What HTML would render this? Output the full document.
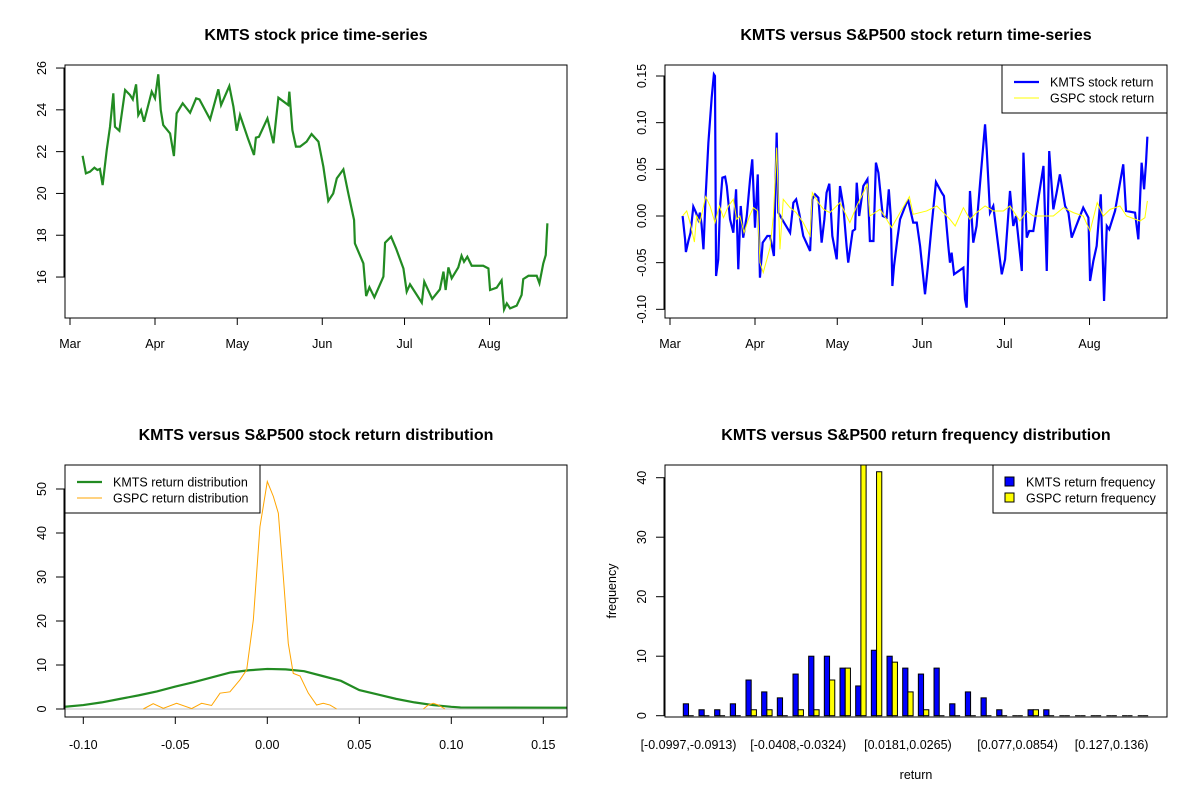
<!DOCTYPE html>
<html><head><meta charset="utf-8"><style>
body{margin:0;background:#fff}
svg{display:block;font-family:"Liberation Sans",Arial,sans-serif}
</style></head><body>
<svg id="root" width="1200" height="800" viewBox="0 0 1200 800" xmlns="http://www.w3.org/2000/svg">
<rect width="1200" height="800" fill="#fff"/>
</svg>
<script>
// ---- Price time-series (days since Mar 1) ----
const priceDays=[4.6,5.8,7.3,8.9,10.0,10.9,11.9,13.4,14.6,15.8,16.4,18.0,20.1,21.9,22.9,24.1,24.9,25.9,27.0,29.8,31.0,32.2,33.1,34.0,36.5,37.9,38.9,41.1,43.8,46.0,47.2,51.1,54.1,55.1,58.1,59.6,60.8,62.0,65.0,67.1,67.8,68.9,72.0,74.2,76.0,79.6,80.0,81.1,82.4,83.9,86.3,88.1,90.6,92.4,94.2,96.0,97.3,99.7,101.5,103.6,103.9,107.0,108.0,109.2,111.0,114.3,114.9,117.1,118.9,121.6,122.8,124.0,128.3,129.2,132.1,134.9,136.2,137.0,138.0,139.2,141.6,142.8,143.7,144.9,146.5,150.7,152.6,153.2,155.6,157.4,158.3,159.3,160.5,162.9,164.7,165.3,167.2,170.2,171.2,172.6,173.5,174.1];
const priceVals=[21.8,20.96,21.04,21.23,21.12,21.17,20.4,22.08,23.19,24.79,23.19,23.0,24.95,24.71,24.5,25.22,23.75,23.99,23.43,24.87,24.55,25.7,23.99,23.27,22.87,21.79,23.83,24.31,23.86,24.55,24.5,23.54,24.98,24.23,25.14,24.15,23.0,23.75,22.59,21.84,22.67,22.71,23.59,22.4,24.58,24.23,24.87,23.03,22.24,22.24,22.48,22.84,22.48,21.28,19.64,20.0,20.72,21.15,20.0,18.73,17.61,16.65,15.09,15.51,15.03,16.02,17.64,17.93,17.37,16.41,15.3,15.65,14.77,15.78,14.95,15.41,16.26,15.38,16.46,15.94,16.46,17.02,16.73,16.97,16.54,16.54,16.41,15.38,15.49,15.84,14.45,14.74,14.5,14.63,15.14,15.9,16.06,16.06,15.7,16.65,17.05,18.57];
const monthLabels=["Mar","Apr","May","Jun","Jul","Aug"];
const monthDays=[0,31,61,92,122,153];
const priceTicks=[16,18,20,22,24,26];
// ---- Return time-series ----
const kmtsDays=[4.6,5.5,5.8,6.7,7.5,8.5,9.5,10.3,10.9,11.5,12.2,13.0,14.0,15.2,16.0,16.4,16.8,17.6,18.2,19.1,20.1,20.7,21.9,23.1,24.1,24.9,25.8,26.7,28.0,29.2,30.0,31.0,32.0,32.8,33.8,35.5,36.5,37.9,38.9,39.5,41.6,43.8,45.0,46.0,47.2,48.6,51.1,51.9,52.9,54.1,55.3,56.3,57.1,58.1,59.2,60.8,62.0,63.2,64.4,65.0,66.6,67.5,68.1,69.0,70.5,72.0,72.9,74.2,75.1,76.0,77.6,79.0,79.8,80.5,81.1,81.7,82.9,83.9,86.3,86.9,88.7,90.0,91.2,93.0,94.0,95.4,97.0,99.1,99.9,101.5,102.1,102.7,103.6,107.0,107.6,108.2,109.4,110.6,111.8,113.1,114.9,115.5,116.7,117.9,121.0,122.2,124.0,125.2,126.2,128.3,128.9,130.1,131.0,132.5,134.3,136.2,137.4,138.3,139.8,141.0,142.2,144.1,145.3,146.5,150.7,152.6,153.2,154.4,155.6,157.1,158.3,159.3,160.2,162.3,165.3,166.3,169.6,170.8,172.0,172.9,173.6,174.1];
const kmtsRet=[0,-.025,-.0386,-.0268,-.0179,.010,.0036,-.0036,.0036,-.0089,-.0357,.0214,.0786,.1268,.1518,.15,-.0643,-.0464,.0071,.0411,.0421,.0321,-.0036,-.0179,.0286,-.0571,.0107,-.0232,0,.0393,.0607,-.0125,.0446,-.0661,-.0286,-.0214,-.0214,-.0429,.0893,.0036,-.0071,-.0179,.0143,.0179,.0018,-.0214,-.0375,.0179,.0232,.0196,-.0286,-.0036,.025,.0346,-.0214,-.0464,.0321,.0107,-.0321,-.05,-.0161,-.0143,.0357,0,.0321,.0393,-.0268,-.0268,.0571,.0464,0,-.0018,.0286,0,-.075,-.0536,-.025,-.0036,.0143,.0161,-.0071,-.0071,-.0321,-.0839,-.0554,-.0107,.0364,.025,.0214,-.0321,-.05,-.0393,-.0625,-.0554,-.0893,-.0982,.0268,-.0286,-.0107,.0357,.0982,.0714,.0036,.0107,-.0625,-.0464,.0268,-.0107,0,-.0589,.0679,-.0232,-.0161,-.0161,.0179,.0536,-.0589,.0696,.0071,.025,.0446,.0107,.0036,-.0232,.0089,-.0018,-.0696,-.0482,-.0321,.0232,-.0911,-.0107,-.0143,.0054,.0554,.0054,.0036,-.025,.0571,.0286,.0571,.085];
const gspcDays=[4.6,6.1,7.3,8.9,9.7,10.9,13.0,14.6,16.4,18.0,19.5,21.3,23.1,24.3,25.5,27.0,29.0,30.4,32.0,32.8,34.0,36.5,37.7,38.9,40.1,41.3,43.8,46.0,48.6,51.1,51.9,54.1,56.0,58.3,62.0,65.6,68.1,72.0,72.9,76.6,79.0,80.8,83.9,87.3,88.7,93.6,97.3,99.7,102.1,104.0,107.0,109.4,111.8,114.9,117.9,121.6,124.0,127.6,130.1,132.5,139.8,143.5,147.1,150.7,153.2,155.8,158.0,160.5,164.1,166.5,171.4,173.2,174.1];
const gspcRet=[0,.0054,-.0071,-.0279,0,-.0071,.0207,.0107,-.0071,.0107,-.0018,.0107,.0179,-.0036,0,-.0179,0,.0089,.0054,-.05,-.0607,-.0339,0,.0732,-.0357,.0179,.0089,.0036,-.0071,-.0214,.025,.0143,.0071,.0036,.0143,-.0071,.0107,.0339,0,.0071,-.0036,-.0125,.0036,.0207,.0018,.0054,.0107,.0036,-.0036,-.0107,.0089,-.0036,.0036,.0107,.0054,.0054,.0107,-.0054,.0054,0,0,.0089,.0036,0,-.0161,.0143,0,.0071,.0107,0,-.0054,-.0018,.0161];
const retTicks=[-0.10,-0.05,0.00,0.05,0.10,0.15];
const retTickLabels=["-0.10","-0.05","0.00","0.05","0.10","0.15"];
// ---- Densities ----
const kmtsDensX=[-0.11,-0.10,-0.09,-0.08,-0.07,-0.06,-0.05,-0.04,-0.03,-0.02,-0.01,0,0.01,0.02,0.03,0.04,0.05,0.06,0.07,0.08,0.09,0.10,0.105,0.163];
const kmtsDensY=[0.5,0.9,1.5,2.3,3.1,4.0,5.1,6.1,7.2,8.3,8.8,9.1,9.0,8.6,7.5,6.4,4.3,3.3,2.3,1.5,0.9,0.5,0.35,0.3];
const gspcDensX=[-0.0674,-0.062,-0.0565,-0.0493,-0.0411,-0.0357,-0.0303,-0.0257,-0.0203,-0.0149,-0.0112,-0.0076,-0.004,0,0.0033,0.006,0.0087,0.0114,0.0141,0.0178,0.0223,0.0268,0.0304,0.0341,0.0377];
const gspcDensY=[0,1.2,0.15,1.3,0.1,1.3,0.8,3.6,3.9,6.6,8.9,20.2,41.4,51.7,48.3,44.5,30.1,14.9,8.1,7.5,3.6,0.9,1.3,0.9,0];
const gspcBumpX=[0.0848,0.0875,0.0902,0.093,0.0966];
const gspcBumpY=[0,0.9,1.3,0.9,0];
const densXTicks=[-0.10,-0.05,0.00,0.05,0.10,0.15];
const densXLabels=["-0.10","-0.05","0.00","0.05","0.10","0.15"];
const densYTicks=[0,10,20,30,40,50];
// ---- Histogram ----
const kmtsFreq=[2,1,1,2,6,4,3,7,10,10,8,5,11,10,8,7,8,2,4,3,1,0,1,1,0,0,0,0,0,0];
const gspcFreq=[0,0,0,0,1,1,0,1,1,6,8,55,41,9,4,1,0,0,0,0,0,0,1,0,0,0,0,0,0,0];
const binLabelIdx=[0,7,14,21,27];
const binLabels=["[-0.0997,-0.0913)","[-0.0408,-0.0324)","[0.0181,0.0265)","[0.077,0.0854)","[0.127,0.136)"];
const freqTicks=[0,10,20,30,40];

const NS="http://www.w3.org/2000/svg";
const root=document.getElementById('root');
function mk(tag,attrs,parent,txt){const e=document.createElementNS(NS,tag);for(const k in attrs)e.setAttribute(k,attrs[k]);if(txt!==undefined)e.textContent=txt;(parent||root).appendChild(e);return e;}
function poly(xs,ys,fx,fy){return xs.map((x,i)=>fx(x).toFixed(2)+','+fy(ys[i]).toFixed(2)).join(' ');}

function panel(name,x0,y0,x1,y1,title){
  const g=mk('g',{});
  
  
  const t=mk('text',{x:(x0+x1)/2,y:y0-25,'text-anchor':'middle','font-size':'16','font-weight':'bold'},g,title);
  
  
  const clip=mk('clipPath',{id:name+'-clip'},g);
  mk('rect',{x:x0,y:y0,width:x1-x0,height:y1-y0},clip);
  const inner=mk('g',{'clip-path':'url(#'+name+'-clip)'},g);
  return {g,inner,x0,y0,x1,y1};
}
function frame(p){const r=mk('rect',{x:p.x0,y:p.y0,width:p.x1-p.x0,height:p.y1-p.y0,fill:'none',stroke:'#000','stroke-width':1},p.g);
  
  }
function xTicks(p,vals,labels,fx,ly){const g=mk('g',{},p.g);
  
  
  vals.forEach((v,i)=>{const x=fx(v);mk('line',{x1:x,x2:x,y1:p.y1,y2:p.y1+7,stroke:'#000'},g);
   if(labels[i]!=null)mk('text',{x:x,y:ly,'text-anchor':'middle','font-size':'12.5'},g,labels[i]);});
  mk('line',{x1:fx(vals[0]),x2:fx(vals[vals.length-1]),y1:p.y1,y2:p.y1,stroke:'#000'},g);}
function yTicks(p,vals,labels,fy){const g=mk('g',{},p.g);
  
  
  vals.forEach((v,i)=>{const y=fy(v);mk('line',{x1:p.x0-9,x2:p.x0,y1:y,y2:y,stroke:'#000'},g);
   const lx=p.x0-19;mk('text',{x:lx,y:y,'text-anchor':'middle','font-size':'12.5',transform:'rotate(-90 '+lx+' '+y+')',dy:'0'},g,labels[i]);});
  mk('line',{x1:p.x0-1,x2:p.x0-1,y1:fy(vals[0]),y2:fy(vals[vals.length-1]),stroke:'#000'},g);}
function legend(p,bx,by,w,entries){const g=mk('g',{},p.g);
  
  
  mk('rect',{x:bx,y:by,width:w,height:48,fill:'#fff',stroke:'#000'},g);
  entries.forEach((e,i)=>{const y=by+17+i*16;const eg=mk('g',{},g);
    
    
    if(e.box)mk('rect',{x:bx+12,y:y-5,width:9,height:9,fill:e.color,stroke:'#000'},eg);
    else mk('line',{x1:bx+12,x2:bx+37,y1:y,y2:y,stroke:e.color,'stroke-width':e.w},eg);
    mk('text',{x:bx+(e.box?33:48),y:y+4.5,'font-size':'12.5'},eg,e.label);});}

// Panel 1: price
(function(){const p=panel('price-panel',65,65,567,318,'KMTS stock price time-series');
 const fx=d=>70+d*2.742, fy=v=>318-(v-14.04)*20.9;
 const l=mk('polyline',{points:poly(priceDays,priceVals,fx,fy),fill:'none',stroke:'#228b22','stroke-width':2.2},p.inner);
 
 
 frame(p);xTicks(p,monthDays,monthLabels,fx,348);yTicks(p,priceTicks,priceTicks.map(String),fy);})();

// Panel 2: returns
(function(){const p=panel('return-panel',665,65,1167,318,'KMTS versus S&P500 stock return time-series');
 const fx=d=>670+d*2.742, fy=v=>318-(v+0.1093)*933.3;
 const a=mk('polyline',{points:poly(kmtsDays,kmtsRet,fx,fy),fill:'none',stroke:'#0000ff','stroke-width':2.2},p.inner);
 
 
 const b=mk('polyline',{points:poly(gspcDays,gspcRet,fx,fy),fill:'none',stroke:'#ffff00','stroke-width':1},p.inner);
 
 
 frame(p);xTicks(p,monthDays,monthLabels,fx,348);yTicks(p,retTicks,retTickLabels,fy);
 legend(p,1002,65,165,[{color:'#0000ff',w:2.2,label:'KMTS stock return'},{color:'#ffff00',w:1,label:'GSPC stock return'}]);})();

// Panel 3: densities
(function(){const p=panel('density-panel',65,465,567,717,'KMTS versus S&P500 stock return distribution');
 const fx=v=>267.3+v*1840, fy=v=>709-v*4.4;
 mk('line',{x1:p.x0,x2:p.x1,y1:fy(0),y2:fy(0),stroke:'#bebebe'},p.inner);
 const a=mk('polyline',{points:poly(kmtsDensX,kmtsDensY,fx,fy),fill:'none',stroke:'#228b22','stroke-width':2.2},p.inner);
 
 
 const b=mk('polyline',{points:poly(gspcDensX,gspcDensY,fx,fy),fill:'none',stroke:'#ffa500','stroke-width':1},p.inner);
 
 
 const c=mk('polyline',{points:poly(gspcBumpX,gspcBumpY,fx,fy),fill:'none',stroke:'#ffa500','stroke-width':1},p.inner);
 
 
 frame(p);xTicks(p,densXTicks,densXLabels,fx,749);yTicks(p,densYTicks,densYTicks.map(String),fy);
 legend(p,65,465,195,[{color:'#228b22',w:2.2,label:'KMTS return distribution'},{color:'#ffa500',w:1,label:'GSPC return distribution'}]);})();

// Panel 4: histogram
(function(){const p=panel('histogram-panel',665,465,1167,717,'KMTS versus S&P500 return frequency distribution');
 const u=5.22, gx=i=>683.3+i*15.67, fy=v=>715.7-v*5.95;
 function bar(x,v,color,name){
   let r;
   if(v>0) r=mk('rect',{x:x,y:fy(v),width:u,height:fy(0)-fy(v),fill:color,stroke:'#000','stroke-width':1},p.inner);
   else r=mk('line',{x1:x,x2:x+u,y1:fy(0),y2:fy(0),stroke:'#000','stroke-width':1},p.inner);
   
   
 }
 kmtsFreq.forEach((v,i)=>bar(gx(i),v,'#0000ff','kmts-bar'));
 gspcFreq.forEach((v,i)=>bar(gx(i)+u,v,'#ffff00','gspc-bar'));
 frame(p);
 const g=mk('g',{},p.g);
 
 
 binLabelIdx.forEach((bi,k)=>{mk('text',{x:gx(bi)+u,y:749,'text-anchor':'middle','font-size':'12.5'},g,binLabels[k]);});
 yTicks(p,freqTicks,freqTicks.map(String),fy);
 const xt=mk('text',{x:916,y:779,'text-anchor':'middle','font-size':'12.5'},p.g,'return');
 
 
 const yt=mk('text',{x:616,y:591,'text-anchor':'middle','font-size':'12.5',transform:'rotate(-90 616 591)'},p.g,'frequency');
 
 
 legend(p,993,465,174,[{color:'#0000ff',box:true,label:'KMTS return frequency'},{color:'#ffff00',box:true,label:'GSPC return frequency'}]);})();
</script>
</body></html>
